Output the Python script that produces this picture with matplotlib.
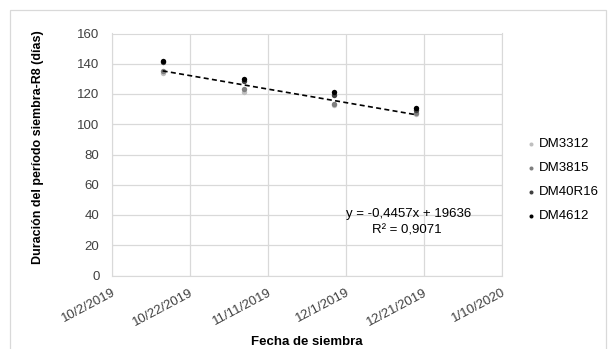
import matplotlib
matplotlib.use("Agg")
import matplotlib.pyplot as plt
import matplotlib.dates as mdates
from matplotlib.patches import Rectangle
import datetime as dt

plt.rcParams['font.family'] = ['Liberation Sans', 'DejaVu Sans']

# Sowing dates and duration (days) from sowing to R8 for each cultivar
fechas = ["2019-10-15", "2019-11-05", "2019-11-28", "2019-12-19"]
cultivares = ["DM3312", "DM3815", "DM40R16", "DM4612"]
dm3312 = [134, 121, 113, 106.5]
dm3815 = [135, 123, 113.5, 107.5]
dm40r16 = [141, 128.5, 119.5, 109.5]
dm4612 = [142, 130, 121, 110.5]
colores = ["#BFBFBF", "#7F7F7F", "#404040", "#000000"]

# Linear trend (x as Excel serial date)
pendiente = -0.4457
intercepto = 19636
r2 = 0.9071

x_ticks = ["2019-10-02", "2019-10-22", "2019-11-11", "2019-12-01", "2019-12-21", "2020-01-10"]
y_ticks = [0, 20, 40, 60, 80, 100, 120, 140, 160]

fechas_d = [dt.date.fromisoformat(f) for f in fechas]
ticks_d = [dt.date.fromisoformat(f) for f in x_ticks]

W, H = 609, 349
fig = plt.figure(figsize=(W / 100, H / 100), dpi=100)
ax = fig.add_axes([112 / W, 1 - 275.5 / H, (501.5 - 112) / W, (275.5 - 33.5) / H])

series = [dm3312, dm3815, dm40r16, dm4612]
for nombre, vals, c in zip(cultivares, series, colores):
    ax.scatter(fechas_d, vals, s=15, color=c, label=nombre, zorder=3, linewidths=0)

# Trend line from the fitted equation
excel_origin = dt.date(1899, 12, 30)
x0, x1 = fechas_d[0], fechas_d[-1]


def tendencia(d):
    return pendiente * (d - excel_origin).days + intercepto


ax.plot([x0, x1], [tendencia(x0), tendencia(x1)], ls=(0, (3, 2)), color="black", lw=1.2, zorder=4)

ax.set_xlim(ticks_d[0], ticks_d[-1])
ax.set_ylim(0, 160)
ax.set_xticks(ticks_d)
ax.xaxis.set_major_formatter(mdates.DateFormatter("%-m/%-d/%Y"))
ax.set_yticks(y_ticks)
ax.grid(True, color="#D9D9D9", lw=0.9)
ax.set_axisbelow(True)
for s in ax.spines.values():
    s.set_color("#D9D9D9")
ax.tick_params(length=0, labelsize=9.5, colors="#404040")
ax.tick_params(axis='y', pad=9)
ax.tick_params(axis='x', pad=8)
for lbl in ax.get_xticklabels():
    lbl.set_rotation(28)
    lbl.set_ha("right")
    lbl.set_rotation_mode("anchor")

ax.set_ylabel("Duración del período siembra-R8 (días)", fontsize=9, fontweight="bold")
ax.yaxis.set_label_coords((38 - 112) / 389.5, (275.5 - 147) / 242)
ax.set_xlabel("Fecha de siembra", fontsize=9.5, fontweight="bold")
ax.xaxis.set_label_coords(0.5, (275.5 - 342) / 242)
ax.xaxis.label.set_va("center")
ax.yaxis.label.set_va("center")


# Trend equation and R², in figure pixel coordinates
def px(x, y):
    return x / W, 1 - y / H


ax.text(*px(409, 214), f"y = {pendiente:.4f}x + {intercepto}".replace(".", ","),
        transform=fig.transFigure, ha="center", va="center", fontsize=9.5)
ax.text(*px(407, 230.5), f"R² = {r2:.4f}".replace(".", ","),
        transform=fig.transFigure, ha="center", va="center", fontsize=9.5)

leg = fig.legend(loc="upper left", bbox_to_anchor=px(522, 138), frameon=False,
                 fontsize=9.5, handletextpad=0.0, markerscale=0.75, labelspacing=0.89,
                 handlelength=1.3, borderaxespad=0, borderpad=0)

fig.patches.append(Rectangle(px(10, 360), (606 - 10) / W, (360 - 10) / H,
                             transform=fig.transFigure, fill=False, ec="#D9D9D9", lw=0.9))

fig.savefig("out.png", dpi=100)
